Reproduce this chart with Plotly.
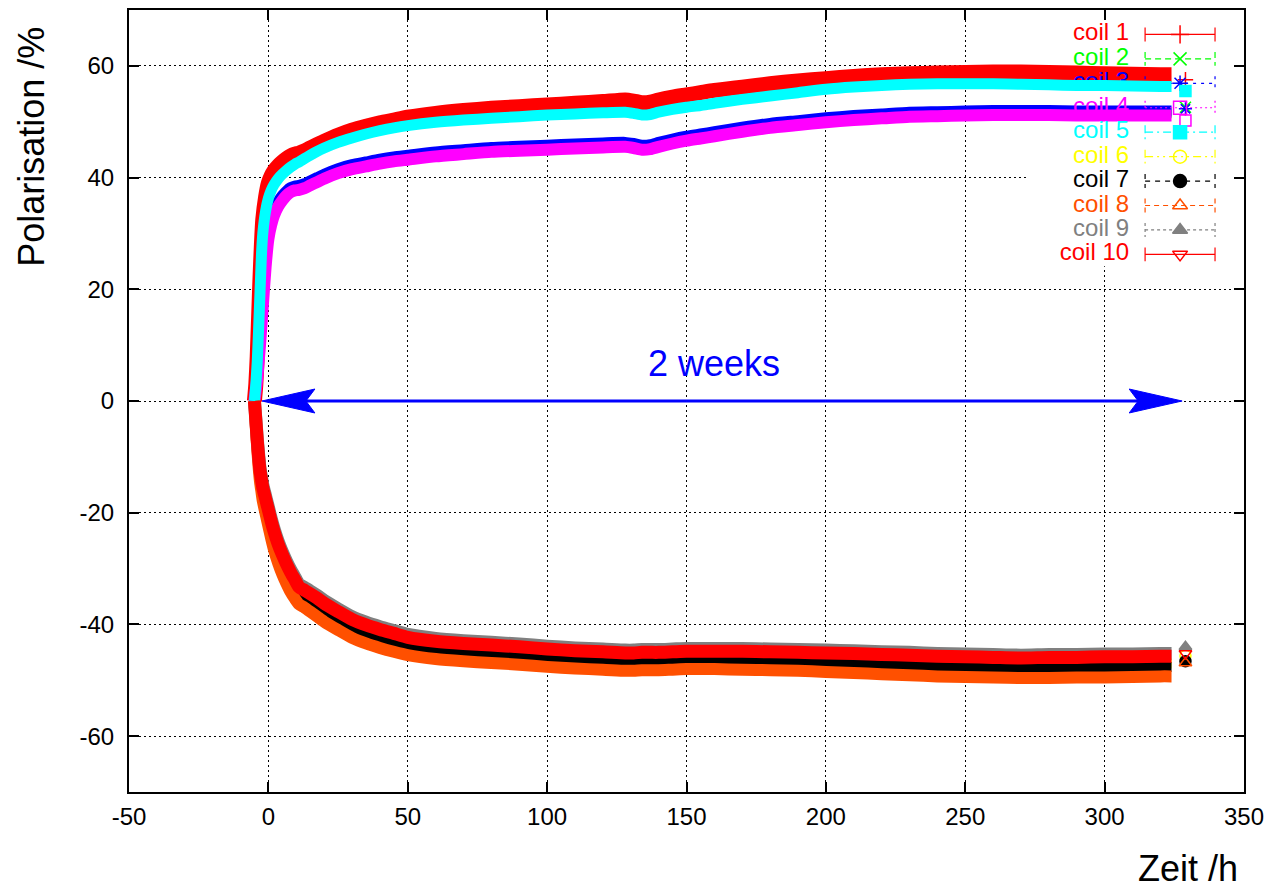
import plotly.graph_objects as go

# ---------------- data ----------------
T = [-5, -4.5, -4, -3.5, -3, -2.5, -2, -1, 0, 1,
     2, 3.5, 5, 6.5, 8, 9.5, 11, 13, 15, 17.5,
     20, 25, 30, 35, 40, 45, 50, 60, 70, 80,
     90, 100, 110, 120, 128, 131, 134, 137, 140, 145,
     150, 155, 160, 170, 180, 190, 200, 210, 220, 230,
     240, 250, 260, 270, 280, 290, 300, 310, 320, 324]

coil1 = [0, 3, 8, 15, 22, 28, 32.5, 36.5, 39, 40.3,
         41.2, 42.1, 42.8, 43.4, 43.9, 44.2, 44.4, 44.8, 45.3, 45.9,
         46.5, 47.6, 48.5, 49.2, 49.8, 50.3, 50.8, 51.5, 52.0, 52.4,
         52.7, 53.0, 53.3, 53.6, 53.9, 53.7, 53.4, 53.5, 53.9, 54.4,
         54.8, 55.2, 55.6, 56.2, 56.8, 57.3, 57.7, 58.1, 58.4, 58.6,
         58.7, 58.8, 58.9, 58.9, 58.8, 58.7, 58.6, 58.5, 58.4, 58.4]
coil2 = [0, 2.2, 4.5, 7.5, 10.8, 14.2, 18, 25, 29.8, 32.1,
         33.7, 35.2, 36.3, 37.2, 37.8, 38.1, 38.2, 38.5, 39.0, 39.6,
         40.2, 41.2, 41.9, 42.4, 42.9, 43.3, 43.6, 44.2, 44.6, 45.0,
         45.2, 45.4, 45.6, 45.8, 45.9, 45.7, 45.4, 45.5, 45.9, 46.5,
         47.0, 47.4, 47.8, 48.6, 49.3, 49.8, 50.3, 50.7, 51.0, 51.3,
         51.4, 51.5, 51.6, 51.6, 51.6, 51.5, 51.5, 51.5, 51.5, 51.5]
coil3 = [0, 2.5, 5, 8, 11.5, 15, 19, 26, 30.5, 32.7,
         34.2, 35.7, 36.8, 37.6, 38.2, 38.5, 38.6, 38.9, 39.4, 40.0,
         40.6, 41.6, 42.3, 42.8, 43.3, 43.7, 44.0, 44.6, 45.0, 45.4,
         45.6, 45.8, 46.0, 46.2, 46.3, 46.1, 45.8, 45.9, 46.3, 46.9,
         47.4, 47.8, 48.2, 49.0, 49.7, 50.2, 50.7, 51.1, 51.4, 51.7,
         51.8, 51.9, 52.0, 52.0, 52.0, 51.9, 51.9, 51.9, 51.9, 51.9]
coil4 = [0, 2, 4, 7, 10, 13.5, 17, 24, 29, 31.5,
         33.2, 34.8, 35.9, 36.8, 37.4, 37.7, 37.8, 38.1, 38.6, 39.2,
         39.8, 40.8, 41.5, 42.0, 42.5, 42.9, 43.2, 43.8, 44.2, 44.6,
         44.8, 45.0, 45.2, 45.4, 45.5, 45.3, 45.0, 45.1, 45.5, 46.1,
         46.6, 47.0, 47.4, 48.2, 48.9, 49.4, 49.9, 50.3, 50.6, 50.9,
         51.0, 51.1, 51.2, 51.2, 51.2, 51.1, 51.1, 51.1, 51.1, 51.1]
coil5 = [0, 3, 7, 13, 19.5, 26, 30, 34, 36.3, 37.7,
         38.7, 39.8, 40.6, 41.3, 41.9, 42.4, 42.8, 43.4, 44.0, 44.7,
         45.3, 46.3, 47.1, 47.8, 48.4, 48.9, 49.3, 49.9, 50.3, 50.6,
         50.9, 51.2, 51.4, 51.6, 51.7, 51.5, 51.2, 51.3, 51.7, 52.2,
         52.6, 52.9, 53.3, 54.0, 54.6, 55.2, 55.8, 56.2, 56.5, 56.7,
         56.8, 56.8, 56.8, 56.7, 56.6, 56.5, 56.5, 56.4, 56.3, 56.3]
coil6 = [0, -4.2, -8, -11.2, -13.7, -15.3, -16.8, -18.8, -20.8, -22.8,
         -24.6, -26.9, -28.8, -30.5, -32.0, -33.3, -34.6, -35.2, -35.8, -36.6,
         -37.5, -39.0, -40.4, -41.4, -42.2, -42.9, -43.6, -44.3, -44.7, -45.0,
         -45.3, -45.7, -46.0, -46.2, -46.4, -46.4, -46.3, -46.3, -46.3, -46.2,
         -46.1, -46.1, -46.1, -46.1, -46.2, -46.3, -46.4, -46.5, -46.7, -46.8,
         -47.0, -47.1, -47.2, -47.3, -47.2, -47.2, -47.1, -47.1, -47.0, -47.0]
coil7 = [0, -4.3, -8.2, -11.4, -14, -15.6, -17.2, -19.3, -21.3, -23.4,
         -25.3, -27.6, -29.5, -31.2, -32.7, -34.0, -35.1, -35.7, -36.4, -37.2,
         -38.1, -39.6, -41.0, -42.0, -42.8, -43.5, -44.2, -44.9, -45.3, -45.6,
         -45.9, -46.3, -46.6, -46.8, -47.0, -47.0, -46.9, -46.9, -46.9, -46.8,
         -46.7, -46.7, -46.7, -46.7, -46.8, -46.9, -47.0, -47.1, -47.3, -47.4,
         -47.6, -47.7, -47.8, -47.9, -47.8, -47.8, -47.7, -47.7, -47.6, -47.6]
coil8 = [0, -4.5, -8.5, -11.8, -14.4, -16.2, -17.9, -20.2, -22.4, -24.6,
         -26.6, -29.0, -31.0, -32.7, -34.2, -35.4, -36.4, -37.0, -37.7, -38.6,
         -39.5, -41.0, -42.4, -43.4, -44.2, -44.9, -45.5, -46.2, -46.6, -46.9,
         -47.2, -47.6, -47.9, -48.1, -48.3, -48.3, -48.2, -48.2, -48.2, -48.1,
         -48.0, -48.0, -48.0, -48.1, -48.2, -48.3, -48.5, -48.7, -48.9, -49.1,
         -49.3, -49.4, -49.5, -49.6, -49.6, -49.5, -49.5, -49.4, -49.3, -49.3]
coil9 = [0, -3.2, -6.6, -9.5, -12, -13.5, -15, -17, -19, -21,
         -22.8, -25.1, -27, -28.7, -30.2, -31.5, -32.8, -33.4, -34.0, -34.8,
         -35.7, -37.2, -38.6, -39.6, -40.4, -41.1, -41.8, -42.5, -42.9, -43.2,
         -43.5, -43.9, -44.2, -44.4, -44.6, -44.6, -44.5, -44.5, -44.5, -44.4,
         -44.3, -44.3, -44.3, -44.3, -44.4, -44.5, -44.6, -44.7, -44.9, -45.0,
         -45.2, -45.3, -45.4, -45.5, -45.4, -45.4, -45.3, -45.3, -45.2, -45.2]
coil10 = [0, -3.5, -7, -10, -12.5, -14, -15.5, -17.5, -19.5, -21.5,
          -23.3, -25.6, -27.5, -29.2, -30.7, -32.0, -33.3, -33.9, -34.5, -35.3,
          -36.2, -37.7, -39.1, -40.1, -40.9, -41.6, -42.3, -43.0, -43.4, -43.7,
          -44.0, -44.4, -44.7, -44.9, -45.1, -45.1, -45.0, -45.0, -45.0, -44.9,
          -44.8, -44.8, -44.8, -44.8, -44.9, -45.0, -45.1, -45.2, -45.4, -45.5,
          -45.7, -45.8, -45.9, -46.0, -45.9, -45.9, -45.8, -45.8, -45.7, -45.7]

# isolated last reading of each coil
FINAL_T = 329
FINAL = [57.5, 52.6, 52.3, 50.2, 55.5, -45.6, -46.6, -46.9, -44.0, -45.2]

NAMES = ["coil 1", "coil 2", "coil 3", "coil 4", "coil 5",
         "coil 6", "coil 7", "coil 8", "coil 9", "coil 10"]
SERIES = [coil1, coil2, coil3, coil4, coil5, coil6, coil7, coil8, coil9, coil10]

X_TICKS = [-50, 0, 50, 100, 150, 200, 250, 300, 350]
X_TICK_LABELS = ["-50", "0", "50", "100", "150", "200", "250", "300", "350"]
Y_TICKS = [-60, -40, -20, 0, 20, 40, 60]
Y_TICK_LABELS = ["-60", "-40", "-20", "0", "20", "40", "60"]

ARROW_T = [-2.3, 327.8]   # "2 weeks" double arrow span at P = 0
ARROW_LABEL = "2 weeks"

# ---------------- styles ----------------
COLORS = ["#ff0000", "#00ff00", "#0000ff", "#ff00ff", "#00ffff",
          "#ffff00", "#000000", "#ff5000", "#808080", "#ff0000"]
WIDTHS = [15, 10, 11, 12, 11, 10, 10, 12, 13, 13]
DASHES = ["solid", "6px,4px", "3px,5px", "2px,3px", "8px,4px,2px,4px",
          "8px,4px,2px,4px,2px,4px", "5px,5px", "5px,4px", "3px,3px", "solid"]
SYMBOLS = ["cross-thin-open", "x-thin-open", "asterisk-open", "square-open", "square",
           "circle-open", "circle", "triangle-up-open", "triangle-up", "triangle-down-open"]

FONT = "Liberation Sans, Arial, Helvetica, sans-serif"
W, H = 1272, 889
ML, MR, MT, MB = 129, 27, 8, 97
XR = [-50, 350]
YR = [-70, 70]
PW = W - ML - MR
PH = H - MT - MB


def px_t(px):
    return XR[0] + (px - ML) * (XR[1] - XR[0]) / PW


def py_p(py):
    return YR[1] - (py - MT) * (YR[1] - YR[0]) / PH


fig = go.Figure()

KEY_TEXT_PX = 1130
KEY_L, KEY_R, KEY_M = 1146, 1216, 1181
KEY_Y0, KEY_DY = 32.5, 24.5

# gnuplot order: key entry of a coil, then that coil's data, then the next coil
for i, (name, vals) in enumerate(zip(NAMES, SERIES)):
    yc = KEY_Y0 + KEY_DY * i
    p = py_p(yc)
    pt, pb = py_p(yc - 7), py_p(yc + 7)
    xl, xr = px_t(KEY_L), px_t(KEY_R)
    fig.add_trace(go.Scatter(
        x=[px_t(KEY_TEXT_PX)], y=[p], mode="text", text=[name],
        textposition="middle left",
        textfont=dict(family=FONT, size=24, color=COLORS[i]),
        showlegend=False, hoverinfo="skip"))
    fig.add_trace(go.Scatter(
        x=[xl, xr, None, xl, xl, None, xr, xr],
        y=[p, p, None, pt, pb, None, pt, pb],
        mode="lines", line=dict(color=COLORS[i], width=1.2, dash=DASHES[i]),
        showlegend=False, hoverinfo="skip"))
    fig.add_trace(go.Scatter(
        x=[px_t(KEY_M)], y=[p], mode="markers",
        marker=dict(symbol=SYMBOLS[i], size=13, color=COLORS[i],
                    line=dict(color=COLORS[i], width=1.5)),
        showlegend=False, hoverinfo="skip"))
    # measured curve
    fig.add_trace(go.Scatter(
        x=T, y=vals, mode="lines", name=name,
        line=dict(color=COLORS[i], width=WIDTHS[i], shape="spline", smoothing=0.6),
        showlegend=False, hoverinfo="skip"))
    fig.add_trace(go.Scatter(
        x=[FINAL_T], y=[FINAL[i]], mode="markers",
        marker=dict(symbol=SYMBOLS[i], size=11, color=COLORS[i],
                    line=dict(color=COLORS[i], width=1.5)),
        showlegend=False, hoverinfo="skip"))

# ---- shapes: opaque key box, double arrow ----
shapes = [dict(type="rect", xref="x", yref="y", layer="between",
               x0=px_t(1027), x1=XR[1], y0=py_p(265), y1=YR[1],
               fillcolor="white", line=dict(width=0))]

head_len = 53 * (XR[1] - XR[0]) / PW
notch = 44 * (XR[1] - XR[0]) / PW
half_w = 12 * (YR[1] - YR[0]) / PH
a0, a1 = ARROW_T
shapes.append(dict(type="line", xref="x", yref="y", x0=a0 + notch, x1=a1 - notch,
                   y0=0, y1=0, line=dict(color="#0000ff", width=3), layer="above"))
shapes.append(dict(type="path", xref="x", yref="y", layer="above",
                   path=f"M {a0},0 L {a0 + head_len},{half_w} L {a0 + notch},0 L {a0 + head_len},{-half_w} Z",
                   fillcolor="#0000ff", line=dict(color="#0000ff", width=1)))
shapes.append(dict(type="path", xref="x", yref="y", layer="above",
                   path=f"M {a1},0 L {a1 - head_len},{half_w} L {a1 - notch},0 L {a1 - head_len},{-half_w} Z",
                   fillcolor="#0000ff", line=dict(color="#0000ff", width=1)))

annotations = [
    dict(x=160, y=6.8, xref="x", yref="y", text=ARROW_LABEL, showarrow=False,
         xanchor="center", yanchor="middle",
         font=dict(family=FONT, size=36, color="#0000ff")),
    dict(x=(32 - ML) / PW, y=(MT + PH - 145) / PH, xref="paper", yref="paper",
         text="Polarisation /%", textangle=-90, showarrow=False,
         xanchor="center", yanchor="middle",
         font=dict(family=FONT, size=36, color="black")),
    dict(x=(1189 - ML) / PW, y=(MT + PH - 869) / PH, xref="paper", yref="paper",
         text="Zeit /h", showarrow=False, xanchor="center", yanchor="middle",
         font=dict(family=FONT, size=36, color="black")),
]

axis_common = dict(
    showline=True, linecolor="black", linewidth=2, mirror="ticks",
    ticks="inside", ticklen=10, tickwidth=1.5, tickcolor="black",
    showgrid=True, gridcolor="black", gridwidth=1, griddash="1.5px,3.5px",
    zeroline=False, tickfont=dict(family=FONT, size=24, color="black"),
)

fig.update_layout(
    width=W, height=H,
    margin=dict(l=ML, r=MR, t=MT, b=MB, pad=0),
    paper_bgcolor="white", plot_bgcolor="white",
    xaxis=dict(range=XR, tickvals=X_TICKS, ticktext=X_TICK_LABELS,
               ticklabelstandoff=2, **axis_common),
    yaxis=dict(range=YR, tickvals=Y_TICKS, ticktext=Y_TICK_LABELS,
               ticklabelstandoff=8, **axis_common),
    shapes=shapes, annotations=annotations,
    showlegend=False, font=dict(family=FONT),
)

fig.write_html("out.html",
               config={"displayModeBar": False},
               post_script="document.body.style.margin='0';document.body.style.overflow='hidden';")
